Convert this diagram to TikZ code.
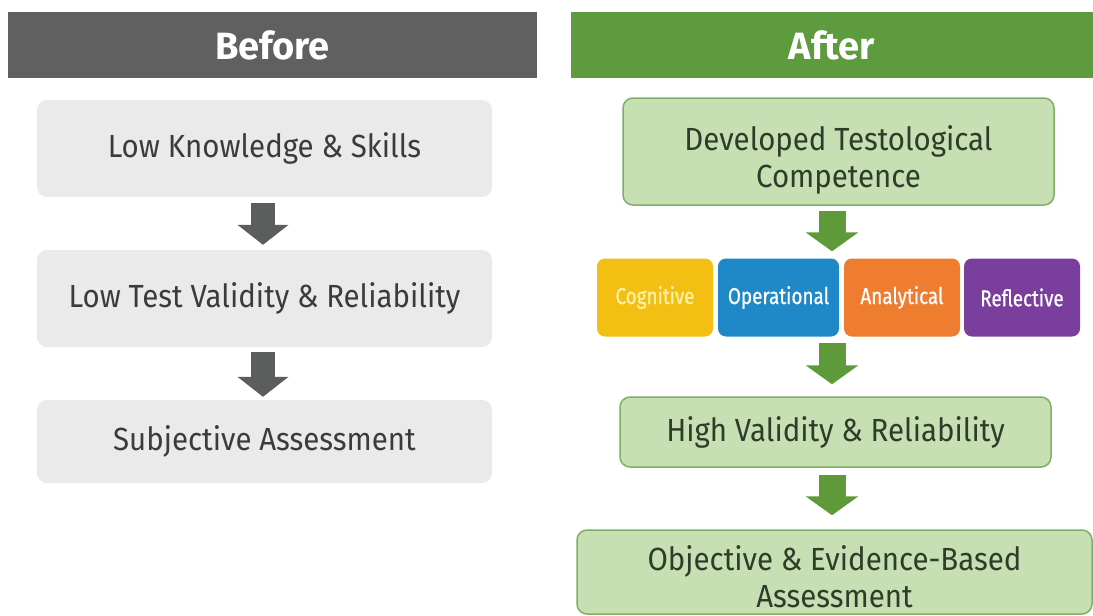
\documentclass[tikz,border=0pt]{standalone}
\usepackage{fontspec}
\setmainfont{Fira Sans}
\newfontfamily\boxfont{Fira Sans}[FakeStretch=0.92]
\newfontfamily\compfont{Fira Sans}[FakeStretch=0.82,FakeBold=0.6]
\usetikzlibrary{arrows.meta,calc}
\definecolor{hdrgray}{HTML}{5F605F}
\definecolor{hdrgreen}{HTML}{5E9B3F}
\definecolor{lgray}{HTML}{EAEAEA}
\definecolor{txtgray}{HTML}{3A3B3C}
\definecolor{arrgray}{HTML}{5C5D5D}
\definecolor{lgreen}{HTML}{C6E0B3}
\definecolor{bgreen}{HTML}{7FAE65}
\definecolor{txtgreen}{HTML}{2E3D2A}
\definecolor{arrgreen}{HTML}{5E9A3A}
\definecolor{cyel}{HTML}{F2BF12}
\definecolor{cblue}{HTML}{1F89C7}
\definecolor{corange}{HTML}{EE7D2F}
\definecolor{cpurple}{HTML}{7A3E9D}
\definecolor{paleyel}{HTML}{FFF2A8}
\newcommand\lowertext[2]{\raisebox{-#1}[\height][\depth]{#2}}
\begin{document}
\begin{tikzpicture}[x=1pt,y=-1pt,
  hdr/.style={inner sep=0pt, minimum height=66pt, text=white,
    font=\fontsize{38}{44}\selectfont\bfseries},
  graybox/.style={fill=lgray, rounded corners=10pt, inner sep=0pt,
    minimum width=455pt, text=txtgray, font=\boxfont\fontsize{32}{37}\selectfont},
  greenbox/.style={fill=lgreen, draw=bgreen, line width=1.5pt, rounded corners=10pt,
    inner sep=0pt, align=center, text=txtgreen, font=\boxfont\fontsize{32}{37}\selectfont},
  compbox/.style={rounded corners=8pt, inner sep=0pt, minimum width=116pt,
    minimum height=78pt, text=white, font=\compfont\fontsize{23}{27}\selectfont},
  grayarrow/.style={draw=arrgray, line width=24pt, -{Triangle[width=50pt,length=20pt]}},
  greenarrow/.style={draw=arrgreen, line width=27pt, -{Triangle[width=52pt,length=19pt]}}]
\useasboundingbox (0,0) rectangle (1093,616);
\fill[white] (0,0) rectangle (1093,616);
% headers
\node[hdr, fill=hdrgray, minimum width=529pt] (before) at (272.5,45) {Before};
\node[hdr, fill=hdrgreen, minimum width=522pt] (after) at (832,45) {After};
% left column
\node[graybox, minimum height=97pt] (l1) at (264.5,148.5) {Low Knowledge \& Skills};
\node[graybox, minimum height=97pt] (l2) at (264.5,298.5) {Low Test Validity \& Reliability};
\node[graybox, minimum height=83pt] (l3) at (264.5,441.5) {Subjective Assessment};
\coordinate (lx) at (263,0);
\draw[grayarrow, shorten <=6pt, shorten >=5pt] (l1.south -| lx) -- (l2.north -| lx);
\draw[grayarrow, shorten <=5pt, shorten >=3pt] (l2.south -| lx) -- (l3.north -| lx);
% right column
\node[greenbox, minimum width=431pt, minimum height=107pt] (r1) at (838.5,151.5)
  {\lowertext{8pt}{\parbox{400pt}{\centering Developed Testological\\Competence}}};
\node[compbox, fill=cyel, text=paleyel] (c1) at (655,297.5) {Cognitive};
\node[compbox, fill=cblue, minimum width=121pt] (c2) at (778.5,297.5) {Operational};
\node[compbox, fill=corange] (c3) at (902,297.5) {Analytical};
\node[compbox, fill=cpurple] (c4) at (1022,297.5) {Reflective};
\node[greenbox, minimum width=431pt, minimum height=70pt] (r2) at (835.5,432)
  {High Validity \& Reliability};
\node[greenbox, minimum width=515pt, minimum height=84pt] (r3) at (834.5,572)
  {\lowertext{5pt}{\parbox{480pt}{\centering Objective \& Evidence-Based\\Assessment}}};
\coordinate (rx) at (832,0);
\draw[greenarrow, shorten <=5pt, shorten >=7pt] (r1.south -| rx) -- (c2.north -| rx);
\draw[greenarrow, shorten <=6pt, shorten >=12pt] (c2.south -| rx) -- (r2.north -| rx);
\draw[greenarrow, shorten <=7pt, shorten >=14pt] (r2.south -| rx) -- (r3.north -| rx);
\end{tikzpicture}
\end{document}
